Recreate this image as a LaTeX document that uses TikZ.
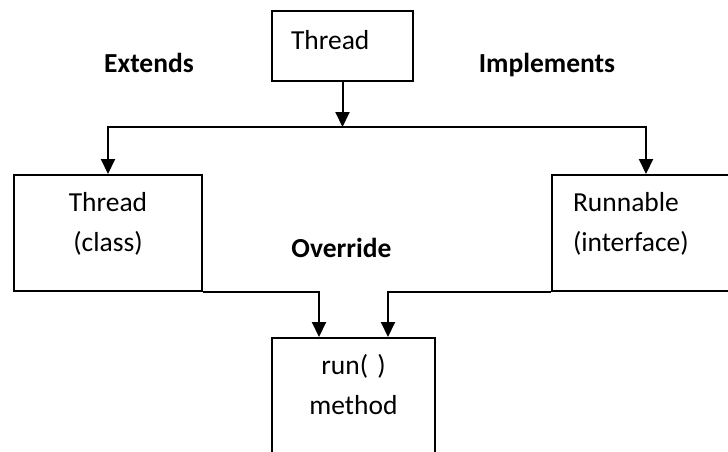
\documentclass[tikz,border=0pt]{standalone}
\usepackage{fontspec}
\setmainfont{Carlito}
\usetikzlibrary{positioning, arrows.meta}

\begin{document}
\begin{tikzpicture}[x=1pt, y=-1pt]
    \tikzset{
        >={Triangle[width=14pt, length=15pt]}, % polne trikotne konice
        every node/.style={font=\fontsize{27.5}{40}\selectfont}, % Carlito namesto Calibri
        box/.style={draw, line width=2pt, anchor=north west, inner ysep=0pt}, % okvir razreda
        wide/.style={text width=146pt, inner xsep=21pt}, % spodnja okvirja sta 188pt siroka
        tall/.style={text height=36pt, text depth=80pt}, % prva vrstica 36pt pod robom
        tag/.style={font=\fontsize{27.5}{40}\selectfont\bfseries, anchor=base}, % odebeljene oznake
        link/.style={->, line width=2pt}, % povezave
    }
    \useasboundingbox (0,0) rectangle (728,451);

    \node[box, text width=103pt, inner xsep=19pt, align=left,
          text height=38pt, text depth=32pt] (thr) at (271,10) {Thread};
    \node[box, wide, tall, align=center] (tcls) at (13,174) {Thread\\(class)};
    \node[box, wide, tall, align=left] (rbl) at (551,174) {Runnable\\(interface)};
    \node[box, tall, text width=121pt, inner xsep=21pt, align=center] (run) at (271,337) {run( )\\method};

    \node[tag] (ext) at (149,72) {Extends};
    \node[tag] (impl) at (547,72) {Implements};
    \node[tag] (ovr) at (341.5,257) {Override};

    \coordinate (split) at (thr.south |- 0,127);

    \draw[link] (thr) -- (split);
    \draw[link] (split) -| (tcls);
    \draw[link] (split) -| (rbl);
    \draw[link] (tcls.south east) -| ([xshift=-34.5pt]run.north);
    \draw[link] (rbl.south west) -| ([xshift=34.5pt]run.north);
\end{tikzpicture}
\end{document}
